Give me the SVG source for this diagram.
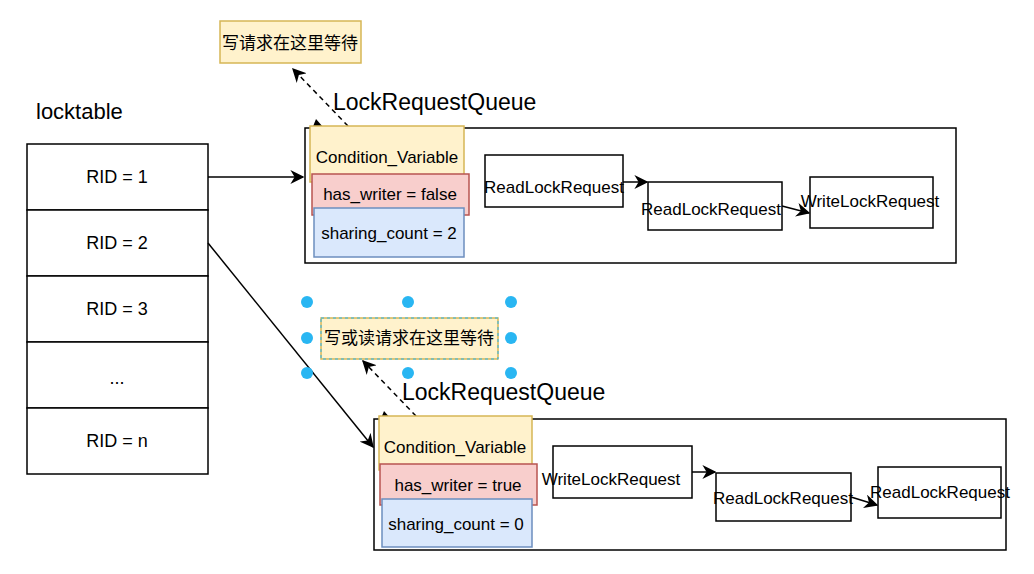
<svg xmlns="http://www.w3.org/2000/svg" width="1034" height="574" viewBox="0 0 1034 574">
<defs>
<style>
text{font-family:"Liberation Sans","Noto Sans CJK SC",Arial,sans-serif;fill:#000}
.t{font-size:17px;text-anchor:middle}
.rid{font-size:18px;text-anchor:middle}
.big{font-size:22px}
.q{font-size:23px}
.cjk{font-size:17px;text-anchor:middle;font-family:"Noto Sans CJK SC","Liberation Sans",sans-serif}
.box{fill:#fff;stroke:#000;stroke-width:1.5}
.cont{fill:none;stroke:#000;stroke-width:1.5}
.yel{fill:#fff2cc;stroke:#d6b656;stroke-width:1.5}
.red{fill:#f8cecc;stroke:#b85450;stroke-width:1.5}
.blu{fill:#dae8fc;stroke:#6c8ebf;stroke-width:1.5}
.edge{fill:none;stroke:#000;stroke-width:1.5}
.dash{fill:none;stroke:#000;stroke-width:1.5;stroke-dasharray:5 4}
.h{fill:#29b6f2}
</style>
<marker id="arrL" viewBox="0 0 10 10" refX="9" refY="5" markerWidth="14" markerHeight="14" markerUnits="userSpaceOnUse" orient="auto">
<path d="M0,0 L10,5 L0,10 L3,5 Z" fill="#000"/>
</marker>
</defs>
<rect width="1034" height="574" fill="#fff"/>

<g id="locktable-label"><text class="big" x="36" y="119">locktable</text></g>
<g id="locktable">
<g id="rid1"><rect class="box" x="27" y="144" width="181" height="66"/><text class="rid" x="117" y="183">RID = 1</text></g>
<g id="rid2"><rect class="box" x="27" y="210" width="181" height="66"/><text class="rid" x="117" y="249">RID = 2</text></g>
<g id="rid3"><rect class="box" x="27" y="276" width="181" height="66"/><text class="rid" x="117" y="315">RID = 3</text></g>
<g id="ridd"><rect class="box" x="27" y="342" width="181" height="66"/><text class="rid" x="117" y="384">...</text></g>
<g id="ridn"><rect class="box" x="27" y="408" width="181" height="66"/><text class="rid" x="117" y="447">RID = n</text></g>
</g>

<g id="queue1"><rect class="cont" x="305" y="128" width="651" height="135"/><text class="q" x="333" y="110">LockRequestQueue</text></g>
<g id="queue2"><rect class="cont" x="374" y="419" width="632" height="131"/><text class="q" x="402" y="400">LockRequestQueue</text></g>

<g id="connectors">
<line class="edge" x1="208" y1="177" x2="303" y2="177" marker-end="url(#arrL)"/>
<line class="edge" x1="208" y1="243" x2="373" y2="447" marker-end="url(#arrL)"/>
<line class="dash" x1="348" y1="126" x2="293" y2="69" marker-end="url(#arrL)"/>
<line class="dash" x1="416" y1="416" x2="363" y2="361" marker-end="url(#arrL)"/>
<polygon points="316,119 312,129 323,127" fill="#000"/>
<polygon points="384,411 380,421 391,419" fill="#000"/>
<line class="edge" x1="623" y1="182" x2="647" y2="182" marker-end="url(#arrL)"/>
<line class="edge" x1="782" y1="206" x2="809" y2="213" marker-end="url(#arrL)"/>
<line class="edge" x1="692" y1="472" x2="715" y2="472" marker-end="url(#arrL)"/>
<line class="edge" x1="851" y1="497" x2="877" y2="505" marker-end="url(#arrL)"/>
</g>

<g id="note1"><rect class="yel" x="220" y="21" width="141" height="42"/><text class="cjk" x="290" y="49">写请求在这里等待</text></g>
<g id="note2">
<rect x="321" y="318" width="177" height="41" fill="#fff2cc" stroke="#d6b656" stroke-width="1.5"/>
<rect x="321" y="318" width="177" height="41" fill="none" stroke="#29b6f2" stroke-width="1" stroke-dasharray="3 3"/>
<text class="cjk" x="409" y="344">写或读请求在这里等待</text>
<circle class="h" cx="307" cy="302" r="6"/><circle class="h" cx="408" cy="302" r="6"/><circle class="h" cx="511" cy="302" r="6"/>
<circle class="h" cx="307" cy="338" r="6"/><circle class="h" cx="511" cy="338" r="6"/>
<circle class="h" cx="307" cy="373" r="6"/><circle class="h" cx="408" cy="373" r="6"/><circle class="h" cx="511" cy="373" r="6"/>
</g>

<g id="cv1"><rect class="yel" x="310" y="126" width="154" height="56"/><text class="t" x="387" y="163">Condition_Variable</text></g>
<g id="hw1"><rect class="red" x="312" y="174" width="157" height="41"/><text class="t" x="390" y="200">has_writer = false</text></g>
<g id="sc1"><rect class="blu" x="314" y="208" width="150" height="49"/><text class="t" x="389" y="239">sharing_count = 2</text></g>

<g id="r11"><rect class="box" x="485" y="155" width="138" height="52"/><text class="t" x="554" y="193">ReadLockRequest</text></g>
<g id="r12"><rect class="box" x="648" y="182" width="134" height="48"/><text class="t" x="711" y="215">ReadLockRequest</text></g>
<g id="w13"><rect class="box" x="810" y="177" width="123" height="51"/><text class="t" x="870" y="207">WriteLockRequest</text></g>

<g id="cv2"><rect class="yel" x="379" y="416" width="153" height="54"/><text class="t" x="455" y="453">Condition_Variable</text></g>
<g id="hw2"><rect class="red" x="380" y="464" width="157" height="41"/><text class="t" x="458" y="491">has_writer = true</text></g>
<g id="sc2"><rect class="blu" x="382" y="499" width="150" height="48"/><text class="t" x="456" y="530">sharing_count = 0</text></g>

<g id="w21"><rect class="box" x="553" y="446" width="139" height="52"/><text class="t" x="611" y="485">WriteLockRequest</text></g>
<g id="r22"><rect class="box" x="716" y="473" width="135" height="48"/><text class="t" x="783" y="504">ReadLockRequest</text></g>
<g id="r23"><rect class="box" x="878" y="467" width="123" height="51"/><text class="t" x="940" y="498">ReadLockRequest</text></g>
</svg>
